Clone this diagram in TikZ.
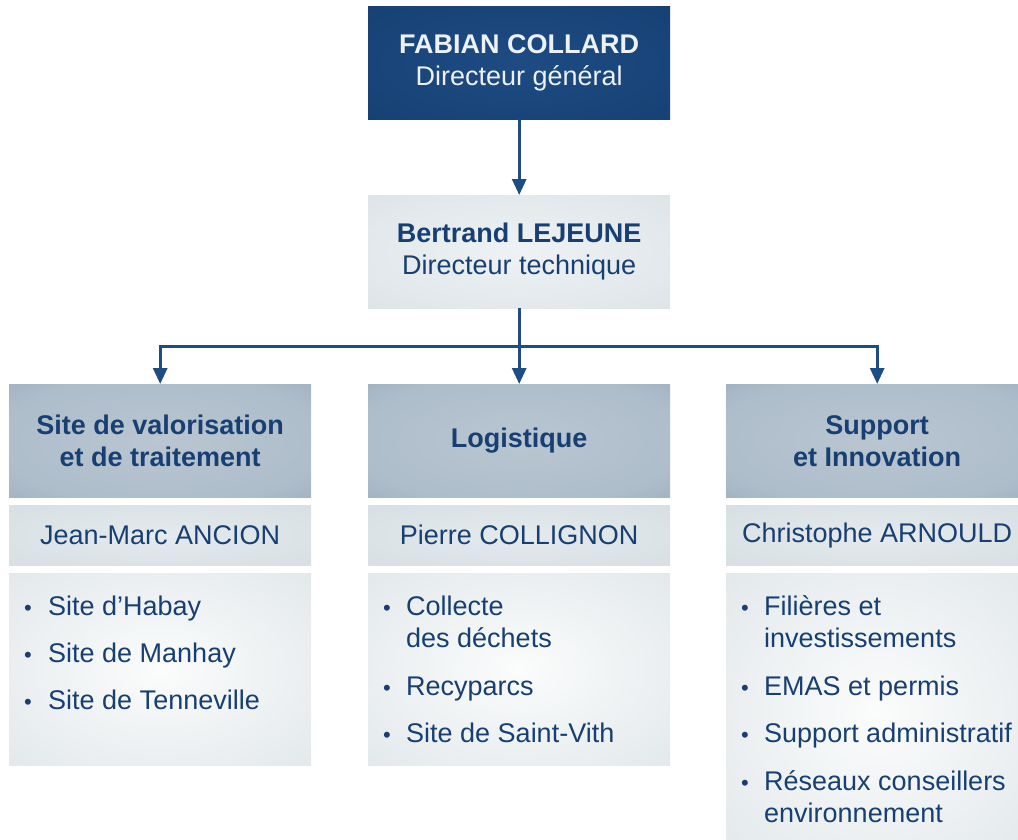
\documentclass[tikz,border=0pt]{standalone}
\usepackage{fontspec}
\setmainfont{Liberation Sans}
\usetikzlibrary{arrows.meta, calc, positioning}

\definecolor{leadin}{HTML}{1D4B82}
\definecolor{leadout}{HTML}{0F3768}
\definecolor{leadtext}{HTML}{EDF1F5}
\definecolor{chiefin}{HTML}{EEF2F4}
\definecolor{chiefout}{HTML}{CDD7DC}
\definecolor{headin}{HTML}{B9C6D2}
\definecolor{headmid}{HTML}{AEBDCA}
\definecolor{headedge}{HTML}{8DA1B0}
\definecolor{headout}{HTML}{718A9B}
\definecolor{namein}{HTML}{E4EAED}
\definecolor{nameout}{HTML}{CBD5DA}
\definecolor{listin}{HTML}{FBFCFC}
\definecolor{listout}{HTML}{CBD5DA}
\definecolor{inktext}{HTML}{173F72}
\definecolor{linkblue}{HTML}{1E4D85}

\pgfdeclareradialshading{leadshade}{\pgfpoint{0bp}{0bp}}{color(0bp)=(leadin); color(71bp)=(leadout)}
\pgfdeclareradialshading{chiefshade}{\pgfpoint{0bp}{0bp}}{color(0bp)=(chiefin); color(71bp)=(chiefout)}
\pgfdeclareradialshading{headshade}{\pgfpoint{0bp}{0bp}}{color(0bp)=(headin); color(28bp)=(headmid); color(50bp)=(headedge); color(71bp)=(headout)}
\pgfdeclareradialshading{nameshade}{\pgfpoint{0bp}{0bp}}{color(0bp)=(namein); color(71bp)=(nameout)}
\pgfdeclareradialshading{listshade}{\pgfpoint{0bp}{0bp}}{color(0bp)=(listin); color(71bp)=(listout)}

\tikzset{
    my-box/.style={
        rectangle, shade, inner sep=0pt, anchor=north west, align=center,
        minimum width=302pt, text=inktext, font=\fontsize{27}{32}\selectfont
    },
    my-lead-box/.style={my-box, shading=leadshade, minimum height=113pt, text=leadtext},
    my-chief-box/.style={my-box, shading=chiefshade, minimum height=113pt},
    my-head-box/.style={my-box, shading=headshade, minimum height=113pt},
    my-name-box/.style={my-box, shading=nameshade, minimum height=60pt},
    my-list-box/.style={my-box, shading=listshade},
    my-item/.style={
        anchor=base west, inner sep=0pt, text=inktext, font=\fontsize{27}{32}\selectfont
    },
    my-dot/.style={
        anchor=base, inner sep=0pt, text=inktext, font=\fontsize{22}{22}\selectfont
    },
    my-link/.style={
        draw=linkblue, line width=3pt
    },
    my-arrow/.style={
        my-link, -{Triangle[width=14pt, length=16pt]}
    },
}

\begin{document}
\begin{tikzpicture}[x=1pt, y=-1pt]

        \clip (0,0) rectangle (1018,839);

        % DIRECTION
        \node[my-lead-box]  (LEAD)  at (368,6)   {\textbf{FABIAN COLLARD}\\Directeur général};
        \node[my-chief-box] (CHIEF) at (368,195) {\textbf{Bertrand LEJEUNE}\\Directeur technique};

        % HEADERS
        \node[my-head-box] (VALO)  at (9,384)   {\textbf{Site de valorisation}\\\textbf{et de traitement}};
        \node[my-head-box] (LOGI)  at (368,384) {\textbf{Logistique}};
        \node[my-head-box] (SUPP)  at (726,384) {\textbf{Support}\\\textbf{et Innovation}};

        % NAMES
        \node[my-name-box] (VALONAME) at (9,505)   {Jean-Marc ANCION};
        \node[my-name-box] (LOGINAME) at (368,505) {Pierre COLLIGNON};
        \node[my-name-box] (SUPPNAME) at (726,505) {Christophe ARNOULD};

        % LIST BOXES
        \node[my-list-box, minimum height=192pt] (VALOLIST) at (9,573)   {};
        \node[my-list-box, minimum height=192pt] (LOGILIST) at (368,573) {};
        \node[my-list-box, minimum height=280pt] (SUPPLIST) at (726,573) {};

        % ITEMS - VALORISATION
        \node[my-dot]  (VALODOT1) at (28,615) {\textbullet};
        \node[my-item] (VALOIT1)  at (48,615) {Site d’Habay};
        \node[my-dot]  (VALODOT2) at (28,662) {\textbullet};
        \node[my-item] (VALOIT2)  at (48,662) {Site de Manhay};
        \node[my-dot]  (VALODOT3) at (28,709) {\textbullet};
        \node[my-item] (VALOIT3)  at (48,709) {Site de Tenneville};

        % ITEMS - LOGISTIQUE
        \node[my-dot]  (LOGIDOT1) at (387,615) {\textbullet};
        \node[my-item] (LOGIIT1)  at (406,615) {Collecte};
        \node[my-item] (LOGIIT1B) at ($(LOGIIT1.base west) + (0,32)$) {des déchets};
        \node[my-dot]  (LOGIDOT2) at (387,695) {\textbullet};
        \node[my-item] (LOGIIT2)  at (406,695) {Recyparcs};
        \node[my-dot]  (LOGIDOT3) at (387,742) {\textbullet};
        \node[my-item] (LOGIIT3)  at (406,742) {Site de Saint-Vith};

        % ITEMS - SUPPORT
        \node[my-dot]  (SUPPDOT1) at (745,615) {\textbullet};
        \node[my-item] (SUPPIT1)  at (764,615) {Filières et};
        \node[my-item] (SUPPIT1B) at ($(SUPPIT1.base west) + (0,32)$) {investissements};
        \node[my-dot]  (SUPPDOT2) at (745,695) {\textbullet};
        \node[my-item] (SUPPIT2)  at (764,695) {EMAS et permis};
        \node[my-dot]  (SUPPDOT3) at (745,742) {\textbullet};
        \node[my-item] (SUPPIT3)  at (764,742) {Support administratif};
        \node[my-dot]  (SUPPDOT4) at (745,790) {\textbullet};
        \node[my-item] (SUPPIT4)  at (764,790) {Réseaux conseillers};
        \node[my-item] (SUPPIT4B) at ($(SUPPIT4.base west) + (0,32)$) {environnement};

        % CONNECTIONS
        \coordinate (SPLIT) at ($(CHIEF.south) + (0,38)$);
        \draw[my-arrow] (LEAD.south) -- (CHIEF.north);
        \draw[my-link]  (CHIEF.south) -- (SPLIT);
        \draw[my-arrow] (SPLIT) -- (LOGI.north);
        \draw[my-arrow] (SPLIT) -| (VALO.north);
        \draw[my-arrow] (SPLIT) -| (SUPP.north);

    \end{tikzpicture}
\end{document}
